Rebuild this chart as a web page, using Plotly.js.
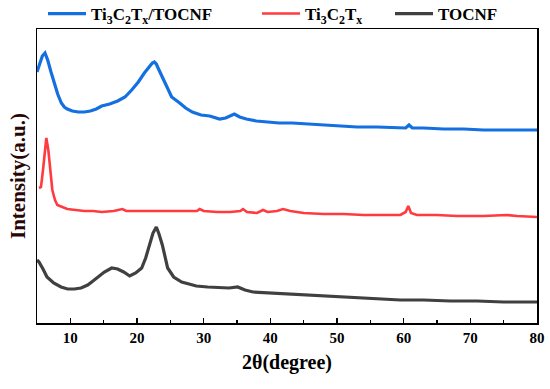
<!DOCTYPE html>
<html>
<head>
<meta charset="utf-8">
<script src="https://cdn.plot.ly/plotly-3.0.1.min.js"></script>
<style>
html,body{margin:0;padding:0;background:#fff;}
#wrap{position:relative;width:550px;height:389px;}
#chart{width:550px;height:389px;}
#frame{position:absolute;left:36px;top:28px;width:502px;height:296px;border:1.5px solid #000;box-sizing:border-box;pointer-events:none;}
</style>
</head>
<body>
<div id="wrap"><div id="chart"></div><div id="frame"></div></div>
<script>
// Series names
const seriesNames = ['Ti<sub>3</sub>C<sub>2</sub>T<sub>x</sub>/TOCNF', 'Ti<sub>3</sub>C<sub>2</sub>T<sub>x</sub>', 'TOCNF'];

// Ti3C2Tx/TOCNF (2θ, intensity a.u.)
const compositeX = [5.0, 5.4, 5.8, 6.2, 6.6, 7.1, 7.6, 8.1, 8.65, 9.1, 9.55, 10.3, 11.2, 12.1, 13.0, 13.9, 14.7, 15.9, 17.1, 18.2, 19.2, 20.2, 21.1, 21.9, 22.3, 22.6, 22.9, 23.3, 23.8, 24.4, 25.2, 26.4, 27.3, 28.3, 29.6, 30.9, 32.4, 33.3, 34.0, 34.6, 35.4, 36.4, 37.9, 39.4, 41.3, 43.3, 45.9, 48.5, 50.8, 53.0, 56.0, 59.0, 60.3, 60.8, 61.3, 63.0, 66.0, 69.0, 72.0, 75.0, 78.0, 80.0];
const compositeY = [258, 266, 274, 277, 270, 258, 247, 236, 227, 223, 221, 219, 218, 218, 219, 221, 224, 226, 229, 233, 240, 248, 257, 264, 267, 268, 266, 260, 253, 245, 233, 227, 222, 218, 215, 214, 211, 212, 214, 216, 213, 211, 209, 208, 207, 207, 206, 205, 204, 203, 203, 202, 202, 205, 202, 202, 201, 201, 200, 200, 200, 200];

// Ti3C2Tx
const mxeneX = [5.3, 5.6, 5.9, 6.2, 6.4, 6.7, 7.0, 7.3, 7.7, 8.05, 8.8, 9.55, 10.8, 12.1, 13.4, 14.7, 16.5, 17.8, 18.4, 20.0, 22.0, 24.0, 26.0, 28.0, 29.0, 29.4, 30.0, 32.0, 34.0, 35.5, 35.9, 36.5, 38.0, 38.9, 39.6, 41.0, 41.9, 43.0, 45.0, 48.0, 51.0, 54.0, 57.0, 59.5, 60.3, 60.7, 61.1, 62.0, 65.0, 68.0, 72.0, 75.5, 77.0, 80.0];
const mxeneY = [142, 143, 160, 184, 192, 180, 160, 140, 130, 125, 123, 121, 120, 119, 119, 118, 119, 121, 119, 119, 119, 119, 119, 119, 119, 121, 119, 118, 118, 119, 121, 118, 117, 120, 118, 119, 121, 119, 117, 116, 116, 115, 115, 115, 118, 124, 117, 115, 115, 114, 114, 115, 114, 113];

// TOCNF
const tocnfX = [5.0, 5.3, 5.9, 6.5, 7.5, 8.6, 9.6, 10.6, 11.6, 12.6, 13.4, 14.1, 15.1, 16.2, 17.1, 18.0, 18.9, 19.8, 20.7, 21.3, 21.9, 22.4, 22.9, 23.3, 23.8, 24.2, 24.6, 25.5, 26.7, 27.8, 28.9, 30.6, 32.4, 33.8, 35.1, 36.2, 37.4, 40.0, 42.4, 45.0, 47.4, 51.0, 54.5, 57.0, 59.5, 63.0, 67.0, 71.0, 75.0, 80.0];
const tocnfY = [70, 68, 61, 53, 47, 43, 41, 41, 42, 45, 49, 53, 58, 62, 61, 58, 54, 57, 62, 72, 85, 97, 103, 96, 85, 72, 62, 53, 48, 46, 44, 43, 42, 42, 43, 40, 38, 37, 36, 35, 34, 33, 32, 31, 30, 30, 29, 29, 28, 28];

// x-axis tick labels
const tickVals = [10, 20, 30, 40, 50, 60, 70, 80];
const tickText = ['10', '20', '30', '40', '50', '60', '70', '80'];

const xRange = [5, 80];
const yRange = [7, 301];

const colors = ['#1470e0', '#ff3b3f', '#404040'];
const serif = 'Liberation Serif, Times New Roman, serif';

const traces = [
  {x: compositeX, y: compositeY, name: seriesNames[0], mode: 'lines', line: {color: colors[0], width: 3.2}, legend: 'legend'},
  {x: mxeneX, y: mxeneY, name: seriesNames[1], mode: 'lines', line: {color: colors[1], width: 2.6}, legend: 'legend2'},
  {x: tocnfX, y: tocnfY, name: seriesNames[2], mode: 'lines', line: {color: colors[2], width: 3.2}, legend: 'legend3', xaxis: 'x2', yaxis: 'y2'}
];

function leg(x) {
  return {
    orientation: 'h', x: x, xanchor: 'left', y: 1.051, yanchor: 'middle',
    font: {family: serif, size: 17, weight: 'bold', color: '#000'},
    itemwidth: 38, bgcolor: 'rgba(0,0,0,0)', borderwidth: 0
  };
}

const layout = {
  width: 550, height: 389,
  margin: {l: 37, r: 13, t: 29, b: 66, autoexpand: false},
  paper_bgcolor: '#fff', plot_bgcolor: '#fff',
  font: {family: serif, color: '#000'},
  showlegend: true,
  legend: leg(0.012),
  legend2: leg(0.44),
  legend3: leg(0.706),
  xaxis: {
    range: xRange, tickmode: 'array', tickvals: tickVals, ticktext: tickText,
    ticks: 'inside', ticklen: 5, tickwidth: 1.5, tickcolor: '#000',
    minor: {dtick: 5, tick0: 5, ticks: 'inside', ticklen: 3, tickwidth: 1.2, tickcolor: '#000'},
    showline: true, linecolor: '#000', linewidth: 1.5, mirror: true,
    showgrid: false, zeroline: false,
    tickfont: {family: serif, size: 15, weight: 'bold', color: '#000'},
    title: {text: '2θ(degree)', font: {family: serif, size: 20, weight: 'bold', color: '#000'}, standoff: 10}
  },
  yaxis: {
    range: yRange, showticklabels: false, ticks: '',
    showline: true, linecolor: '#000', linewidth: 1.5, mirror: true,
    showgrid: false, zeroline: false,
    title: {text: 'Intensity(a.u.)', font: {family: serif, size: 21, weight: 'bold', color: '#2a0505'}, standoff: 4}
  },
  xaxis2: {
    range: xRange, overlaying: 'x', side: 'top', anchor: 'y2',
    showticklabels: false, ticks: '', showgrid: false, zeroline: false,
    showline: true, linecolor: '#000', linewidth: 1.5
  },
  yaxis2: {
    range: yRange, overlaying: 'y', side: 'right', anchor: 'x2',
    showticklabels: false, ticks: '', showgrid: false, zeroline: false,
    showline: true, linecolor: '#000', linewidth: 1.5
  }
};

Plotly.newPlot('chart', traces, layout, {displayModeBar: false, staticPlot: true});
</script>
</body>
</html>
